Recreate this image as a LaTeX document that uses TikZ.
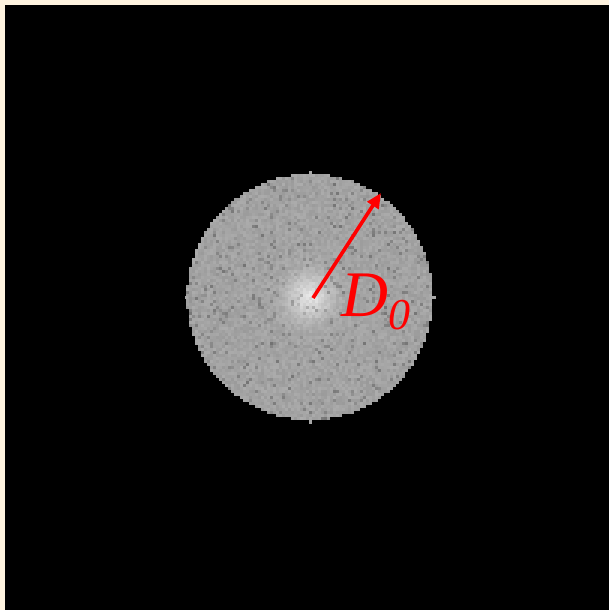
\documentclass[tikz,border=0pt]{standalone}
\usepackage{fontspec}
\newfontfamily\labelfont{Liberation Serif}
\usetikzlibrary{arrows.meta}
\definecolor{cream}{RGB}{255,244,224}
\definecolor{arrowred}{RGB}{255,0,0}
\tikzset{
  radiusarrow/.style={draw=arrowred, line width=3.6pt, -{Triangle[length=15pt,width=13pt]}},
  labeltext/.style={text=arrowred, inner sep=0pt, font=\labelfont\fontsize{65}{70}\selectfont\itshape},
  spike/.style={fill=white!66!black}
}
\begin{document}
\begin{tikzpicture}[x=1pt,y=-1pt]
\useasboundingbox (0,0) rectangle (609,610);
\fill[cream] (0,0) rectangle (609,610);
\fill[black] (5,5) rectangle (609,610);
\pgfmathsetseed{4321}
\foreach \i in {0,...,82}{
  \foreach \j in {0,...,84}{
    \pgfmathsetmacro\cx{187.5+3*\i}
    \pgfmathsetmacro\cy{172.5+3*\j}
    \pgfmathsetmacro\dd{((\cx-310)/10)^2+((\cy-297)/10)^2}
    \pgfmathtruncatemacro\inside{\dd<151.5 ? 1 : 0}
    \ifnum\inside=1
      \pgfmathsetmacro\v{64+3.5*rand+24*exp(-\dd/5)-(rnd<0.08)*(7+9*rnd)}
      \pgfmathsetmacro\v{max(5,min(97,\v))}
      \fill[white!\v!black] (\cx-1.55,\cy-1.55) rectangle (\cx+1.55,\cy+1.55);
    \fi
  }
}
\fill[spike] (184.5,296) rectangle (187.5,299);
\fill[spike] (432,296) rectangle (436,299);
\fill[spike] (308.5,170.5) rectangle (311.5,174.5);
\fill[spike] (308.5,418) rectangle (311.5,424);
\coordinate (c) at (313,298);
\coordinate (tip) at (381,193);
\draw[radiusarrow] (c) -- (tip);
\node[labeltext, anchor=base west] (lbl) at (341,316) {D\raisebox{-0.2em}{\fontsize{44}{50}\selectfont 0}};
\end{tikzpicture}
\end{document}
